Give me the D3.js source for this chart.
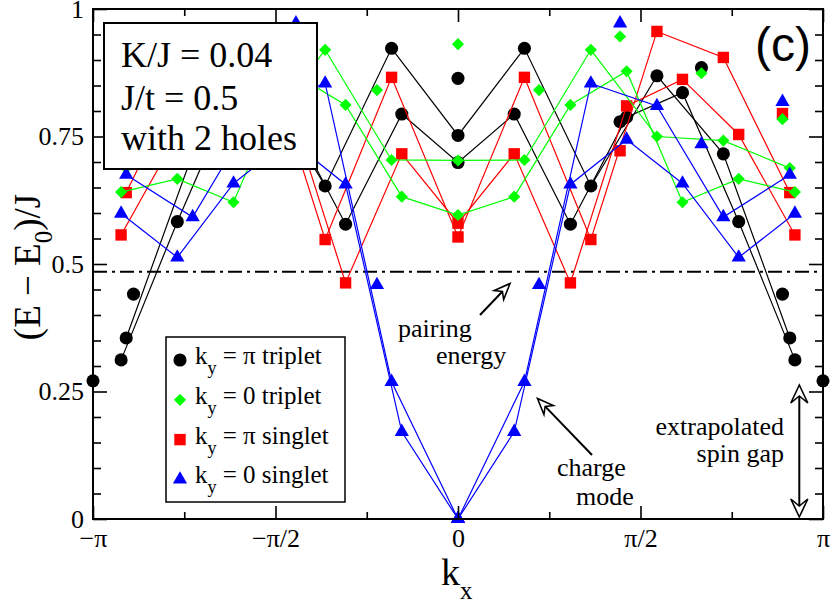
<!DOCTYPE html>
<html><head><meta charset="utf-8">
<script src="https://cdn.jsdelivr.net/npm/d3@7"></script>
</head><body style="margin:0;background:#fff">
<div id="wrap" style="position:relative;width:832px;height:608px;overflow:hidden">
<svg id="fig" width="832" height="608" style="display:block;position:absolute;left:0;top:0"></svg>
</div>
<script>
// momenta in units of pi
const kx11 = [-0.909,-0.727,-0.545,-0.364,-0.182,0,0.182,0.364,0.545,0.727,0.909];
const kx13 = [-0.923,-0.769,-0.615,-0.462,-0.308,-0.154,0,0.154,0.308,0.462,0.615,0.769,0.923];
const kx9full = [-0.889,-0.667,-0.444,-0.222,0,0.222,0.444,0.667,0.889];
const kx9black = [-0.889,-0.667,-0.444,0,0.444,0.667,0.889];
const kx9red = [-0.889,-0.444,0.444,0.889];
const kxEdge = [-1,1];

// ky = pi triplet (black circles)
const tripletPi11 = [0.355,0.716,0.869,0.653,0.923,0.752,0.923,0.653,0.869,0.716,0.355];
const tripletPi13 = [0.312,0.583,0.836,0.788,0.578,0.794,0.699,0.794,0.578,0.788,0.836,0.583,0.312];
const tripletPi9  = [0.441,0.885,0.779,0.864,0.779,0.885,0.441];
const tripletPiEdge = [0.271,0.271];
// ky = 0 triplet (green diamonds)
const triplet0_11 = [0.688,0.742,0.75,0.92,0.704,0.703,0.704,0.92,0.75,0.742,0.688];
const triplet0_13 = [0.641,0.667,0.621,0.878,0.812,0.632,0.596,0.632,0.812,0.878,0.621,0.667,0.641];
const triplet0_9  = [0.784,0.874,0.946,0.841,0.931,0.841,0.946,0.874,0.784];
// ky = pi singlet (red squares)
const singletPi11 = [0.64,0.905,0.956,0.548,0.866,0.553,0.866,0.548,0.956,0.905,0.64];
const singletPi13 = [0.557,0.754,0.862,0.81,0.463,0.716,0.580,0.716,0.463,0.81,0.862,0.754,0.557];
const singletPi9  = [0.795,0.722,0.722,0.795];
// ky = 0 singlet (blue triangles)
const singlet0_11 = [0.675,0.592,0.81,0.854,0.269,0,0.269,0.854,0.81,0.592,0.675];
const singlet0_13 = [0.599,0.513,0.658,0.744,0.656,0.171,0,0.171,0.656,0.744,0.658,0.513,0.599];
const singlet0_9  = [0.818,0.735,0.972,0.459,0,0.459,0.972,0.735,0.818];

const pairingEnergy = 0.485;

const xTicks = [-1,-0.5,0,0.5,1];
const xTickLabels = ["\u2212\u03c0","\u2212\u03c0/2","0","\u03c0/2","\u03c0"];
const xMinor = [-0.75,-0.25,0.25,0.75];
const yTicks = [0,0.25,0.5,0.75,1];
const yTickLabels = ["0","0.25","0.5","0.75","1"];

const types = [
  {key:"tp", label:"\u03c0 triplet", color:"#000000", shape:"circle",
   sets:[{kx:kx11,v:tripletPi11,line:true},{kx:kx13,v:tripletPi13,line:true},{kx:kx9black,v:tripletPi9,line:false},{kx:kxEdge,v:tripletPiEdge,line:false}]},
  {key:"sp", label:"\u03c0 singlet", color:"#ff0000", shape:"square",
   sets:[{kx:kx11,v:singletPi11,line:true},{kx:kx13,v:singletPi13,line:true},{kx:kx9red,v:singletPi9,line:false}]},
  {key:"t0", label:"0 triplet", color:"#00ff00", shape:"diamond",
   sets:[{kx:kx11,v:triplet0_11,line:true},{kx:kx13,v:triplet0_13,line:true},{kx:kx9full,v:triplet0_9,line:false}]},
  {key:"s0", label:"0 singlet", color:"#0000ff", shape:"triangle",
   sets:[{kx:kx11,v:singlet0_11,line:true},{kx:kx13,v:singlet0_13,line:true},{kx:kx9full,v:singlet0_9,line:false}]}
];
const legendOrder = ["tp","t0","sp","s0"];

const SERIF = '"Liberation Serif"';
const SANS = '"Liberation Sans"';
const wrap = d3.select("#wrap");
const svg = d3.select("#fig");
const x = d3.scaleLinear().domain([-1,1]).range([93,823]);
const y = d3.scaleLinear().domain([0,1]).range([519,9]);

function setFont(sel,family,size){
  sel.style("font-family",family,"important");
  if(size!=null) sel.style("font-size",size+"px","important");
  return sel;
}

function symbolPath(shape){
  if(shape==="circle") return d3.symbol(d3.symbolCircle,135)();
  if(shape==="square") return d3.symbol(d3.symbolSquare,130)();
  if(shape==="diamond") return d3.symbol(d3.symbolSquare,74)();
  return d3.symbol(d3.symbolTriangle,88)();
}
function symTransform(shape,px,py){
  return shape==="diamond" ? `translate(${px},${py}) rotate(45)` : `translate(${px},${py})`;
}

// pairing energy line
svg.append("line").attr("x1",x(-1)).attr("x2",x(1)).attr("y1",y(pairingEnergy)).attr("y2",y(pairingEnergy))
  .attr("stroke","#000").attr("stroke-width",2).attr("stroke-dasharray","14,5,3,5");

// series
const lineGen = d3.line().x(d=>x(d[0])).y(d=>y(d[1]));
types.forEach(t=>{
  const g = svg.append("g");
  t.sets.forEach(s=>{
    const pts = s.kx.map((k,i)=>[k,s.v[i]]);
    if(s.line) g.append("path").attr("d",lineGen(pts)).attr("fill","none").attr("stroke",t.color).attr("stroke-width",1.2);
  });
  t.sets.forEach(s=>{
    const pts = s.kx.map((k,i)=>[k,s.v[i]]);
    g.selectAll(null).data(pts).enter().append("path")
      .attr("d",symbolPath(t.shape)).attr("fill",t.color)
      .attr("transform",d=>symTransform(t.shape,x(d[0]),y(d[1])));
  });
});

// axes
function styleAxis(g){
  g.select(".domain").remove();
  g.attr("font-family",null).attr("font-size",null);
  g.selectAll(".tick line").attr("stroke","#000").attr("stroke-width",1.6);
  setFont(g.selectAll(".tick text"),SERIF,26).attr("fill","#000");
}
svg.append("g").attr("transform","translate(0,519)")
  .call(d3.axisBottom(x).tickValues(xTicks).tickFormat((d,i)=>xTickLabels[i]).tickSizeInner(-13).tickSizeOuter(0).tickPadding(9.5)).call(styleAxis);
svg.append("g").attr("transform","translate(0,519)")
  .call(d3.axisBottom(x).tickValues(xMinor).tickFormat("").tickSizeInner(-7).tickSizeOuter(0)).call(styleAxis);
svg.append("g").attr("transform","translate(0,9)")
  .call(d3.axisTop(x).tickValues(xTicks).tickFormat("").tickSizeInner(-13).tickSizeOuter(0)).call(styleAxis);
svg.append("g").attr("transform","translate(0,9)")
  .call(d3.axisTop(x).tickValues(xMinor).tickFormat("").tickSizeInner(-7).tickSizeOuter(0)).call(styleAxis);
const yMinor = d3.range(1,20).map(i=>i*0.05).filter(v=>Math.abs(v*4-Math.round(v*4))>1e-6);
svg.append("g").attr("transform","translate(93,0)")
  .call(d3.axisLeft(y).tickValues(yTicks).tickFormat((d,i)=>yTickLabels[i]).tickSizeInner(-14).tickSizeOuter(0).tickPadding(9)).call(styleAxis);
svg.append("g").attr("transform","translate(93,0)")
  .call(d3.axisLeft(y).tickValues(yMinor).tickFormat("").tickSizeInner(-8).tickSizeOuter(0)).call(styleAxis);
svg.append("g").attr("transform","translate(823,0)")
  .call(d3.axisRight(y).tickValues(yTicks).tickFormat("").tickSizeInner(-14).tickSizeOuter(0)).call(styleAxis);
svg.append("g").attr("transform","translate(823,0)")
  .call(d3.axisRight(y).tickValues(yMinor).tickFormat("").tickSizeInner(-8).tickSizeOuter(0)).call(styleAxis);

// frame
svg.append("rect").attr("x",93).attr("y",9).attr("width",730).attr("height",510)
  .attr("fill","none").attr("stroke","#000").attr("stroke-width",2);

// parameter box + legend box (SVG shapes)
svg.append("rect").attr("x",104).attr("y",23).attr("width",213).attr("height",146)
  .attr("fill","#fff").attr("stroke","#000").attr("stroke-width",2);
svg.append("rect").attr("x",166).attr("y",337).attr("width",179).attr("height",165)
  .attr("fill","#fff").attr("stroke","#000").attr("stroke-width",1.5);
legendOrder.forEach((k,i)=>{
  const t = types.find(d=>d.key===k);
  svg.append("path").attr("d",symbolPath(t.shape)).attr("fill",t.color).attr("transform",symTransform(t.shape,180,360+i*39.8));
});

// annotations (arrows)
function arrow(x1,y1,x2,y2,startHead,endHead,L,Wd,notch){
  const dx=x2-x1, dy=y2-y1, len=Math.hypot(dx,dy), ux=dx/len, uy=dy/len;
  let sx=x1, sy=y1, ex=x2, ey=y2;
  if(endHead){ ex=x2-ux*(L-notch); ey=y2-uy*(L-notch); }
  if(startHead){ sx=x1+ux*(L-notch); sy=y1+uy*(L-notch); }
  svg.append("line").attr("x1",sx).attr("y1",sy).attr("x2",ex).attr("y2",ey).attr("stroke","#000").attr("stroke-width",2);
  function head(tx,ty,vx,vy){
    const ppx=-vy, ppy=vx;
    const pts=[[tx,ty],[tx-vx*L+ppx*Wd,ty-vy*L+ppy*Wd],[tx-vx*(L-notch),ty-vy*(L-notch)],[tx-vx*L-ppx*Wd,ty-vy*L-ppy*Wd]];
    svg.append("path").attr("d","M"+pts.map(p=>p.join(",")).join("L")+"Z")
      .attr("fill","#fff").attr("stroke","#000").attr("stroke-width",1.6).attr("stroke-linejoin","miter");
  }
  if(endHead) head(x2,y2,ux,uy);
  if(startHead) head(x1,y1,-ux,-uy);
}
arrow(480,315,510,283.5,false,true,16,6.5,5);
arrow(592,455,537.5,398.5,false,true,16,6.5,5);
arrow(799.3,385,799.3,517,true,true,18,8.5,7);

// HTML text overlay: parts = [{t, sub, dy}]
function htext(parts, xx, base, size, anchor, family, rot){
  family = family || SERIF;
  const asc = family===SANS ? 0.8465 : 0.8375;
  const el = wrap.append("div")
    .style("position","absolute").style("left",xx+"px").style("top",base+"px")
    .style("white-space","pre").style("font-family",family).style("font-size",size+"px")
    .style("line-height","1").style("color","#000").style("transform-origin","0 0");
  const tx = anchor==="end" ? "-100%" : anchor==="middle" ? "-50%" : "0px";
  el.style("transform",(rot?`rotate(${rot}deg) `:"")+`translate(${tx}, ${-asc*size}px)`);
  parts.forEach(p=>{
    const s = el.append("span").text(p.t);
    if(p.sub){ s.style("font-size",p.sub+"px").style("position","relative").style("top",p.dy+"px"); }
  });
  return el;
}

// axis titles
htext([{t:"k"},{t:"x",sub:25,dy:14}], 441, 585, 38, "start");
htext([{t:"(E \u2212 E"},{t:"0",sub:25,dy:12},{t:")/J"}], 40, 267, 37, "middle", SERIF, -90);

// parameter box text
[["K/J = 0.04",66.7],["J/t = 0.5",109.5],["with 2 holes",150]].forEach(([s,by])=>{
  htext([{t:s}],121,by,36,"start");
});

// panel label
htext([{t:"(c)"}],755,62,48,"start",SANS);

// legend text
legendOrder.forEach((k,i)=>{
  const t = types.find(d=>d.key===k);
  htext([{t:"k"},{t:"y",sub:18,dy:10},{t:" = "+t.label}],195,364+i*39.8,25,"start");
});

// notes
htext([{t:"pairing"}],398,338,26,"start");
htext([{t:"energy"}],436,365,26,"start");
htext([{t:"charge"}],557,477,26,"start");
htext([{t:"mode"}],576,506,26,"start");
htext([{t:"extrapolated"}],784,436,26,"end");
htext([{t:"spin gap"}],784,463,26,"end");
</script>
</body></html>
